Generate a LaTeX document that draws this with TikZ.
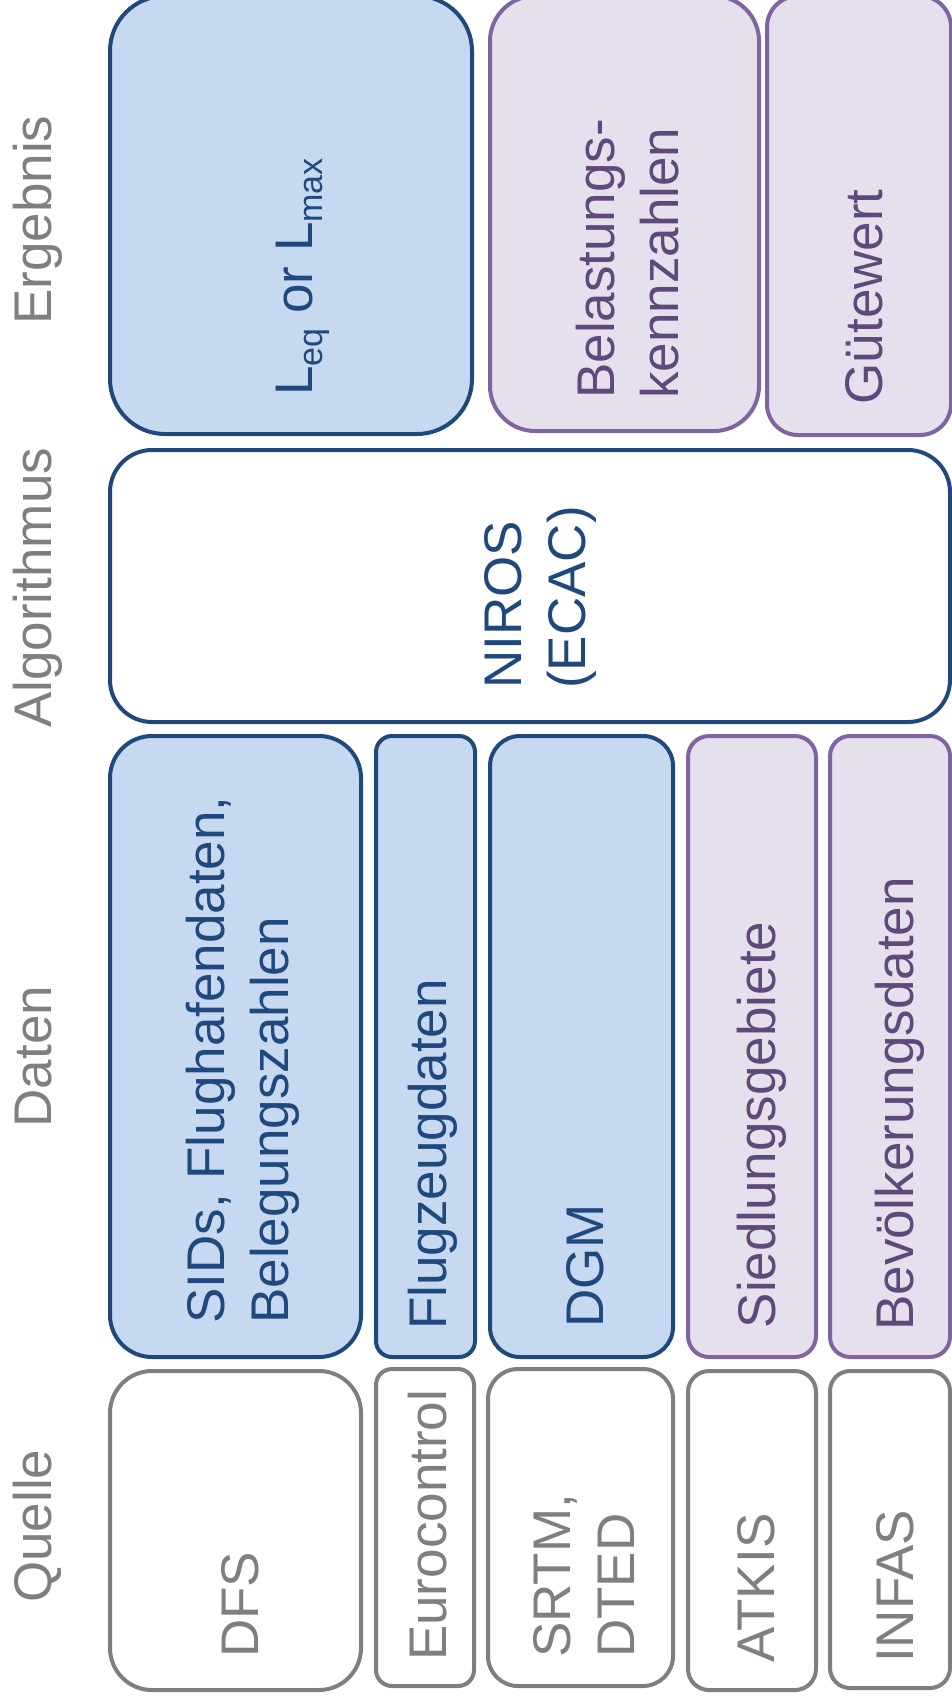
\documentclass[tikz,border=0pt]{standalone}
\usepackage{fontspec}
\setmainfont{Liberation Sans}
\definecolor{quellgray}{HTML}{7F7F7F}
\definecolor{darkblue}{HTML}{1F497D}
\definecolor{lightblue}{HTML}{C6D9F1}
\definecolor{lilac}{HTML}{E5E0EC}
\definecolor{purpleline}{HTML}{8064A2}
\definecolor{purpletext}{HTML}{5F497A}
\tikzset{
    bluebox/.style={
        draw=darkblue,
        fill=lightblue,
        line width=4pt,
    },
    lilacbox/.style={
        draw=purpleline,
        fill=lilac,
        line width=4pt,
    },
    algobox/.style={
        draw=darkblue,
        fill=white,
        line width=4pt,
    },
    graybox/.style={
        draw=quellgray,
        fill=white,
        line width=4pt,
    },
    rowlabel/.style={
        rotate=90,
        anchor=base west,
        inner sep=0pt,
        text=quellgray,
        font=\fontsize{53}{64}\selectfont,
    },
    boxline/.style={
        rotate=90,
        anchor=base west,
        inner sep=0pt,
        text=#1,
        font=\fontsize{53}{64}\selectfont,
    },
    boxlines/.style={
        rotate=90,
        anchor=west,
        align=left,
        inner sep=0pt,
        text=#1,
        font=\fontsize{53}{64}\selectfont,
    }
}
\newcommand{\subtxt}[1]{\raisebox{-10pt}{\fontsize{34}{34}\selectfont #1}}

\begin{document}
\begin{tikzpicture}[x=1pt,y=-1pt]

\useasboundingbox (0,0) rectangle (952,1703);
\clip (0,0) rectangle (952,1703);

% Ergebnis
\draw[bluebox,rounded corners=55pt] (110,-4) rectangle (472,434);
\draw[lilacbox,rounded corners=45pt] (490,-4) rectangle (759,431);
\draw[lilacbox,rounded corners=31pt] (767,-4) rectangle (951,435);

% Algorithmus
\draw[algobox,rounded corners=42pt] (110,450) rectangle (950,722);

% Daten
\draw[bluebox,rounded corners=42pt] (110,736) rectangle (361,1357);
\draw[bluebox,rounded corners=16pt] (376,736) rectangle (475,1357);
\draw[bluebox,rounded corners=30pt] (490,736) rectangle (673,1357);
\draw[lilacbox,rounded corners=21pt] (688,736) rectangle (816,1357);
\draw[lilacbox,rounded corners=20pt] (830,736) rectangle (950,1357);

% Quelle
\draw[graybox,rounded corners=42pt] (110,1371) rectangle (361,1690);
\draw[graybox,rounded corners=16pt] (376,1369) rectangle (474,1686);
\draw[graybox,rounded corners=30pt] (488,1369) rectangle (673,1686);
\draw[graybox,rounded corners=21pt] (688,1371) rectangle (816,1690);
\draw[graybox,rounded corners=20pt] (830,1371) rectangle (950,1688);

\node[rowlabel] (ergebnis) at (51,325) {Ergebnis};
\node[rowlabel] (algorithmus) at (51,728) {Algorithmus};
\node[rowlabel] (daten) at (51,1127.5) {Daten};
\node[rowlabel] (quelle) at (51,1603) {Quelle};

\node[boxline=darkblue] (leq) at (312,396) {L\subtxt{eq} or L\subtxt{max}};
\node[boxlines=purpletext] (belastung) at (628,399) {Belastungs-\\kennzahlen};
\node[boxline=purpletext] (guete) at (882,404.5) {Gütewert};

\node[boxlines=darkblue] (niros) at (540,689) {NIROS\\(ECAC)};

\node[boxlines=darkblue] (sids) at (243,1324) {SIDs, Flughafendaten,\\Belegungszahlen};
\node[boxline=darkblue] (flugzeug) at (446,1330) {Flugzeugdaten};
\node[boxline=darkblue] (dgm) at (603,1328) {DGM};
\node[boxline=purpletext] (siedlung) at (775,1328.5) {Siedlungsgebiete};
\node[boxline=purpletext] (bevoelkerung) at (913,1331) {Bevölkerungsdaten};

\node[boxline=quellgray] (dfs) at (258,1658) {DFS};
\node[boxline=quellgray] (eurocontrol) at (446,1661) {Eurocontrol};
\node[boxlines=quellgray] (srtm) at (583.5,1658) {SRTM,\\DTED};
\node[boxline=quellgray] (atkis) at (774,1663) {ATKIS};
\node[boxline=quellgray] (infas) at (913,1663) {INFAS};

\end{tikzpicture}
\end{document}
